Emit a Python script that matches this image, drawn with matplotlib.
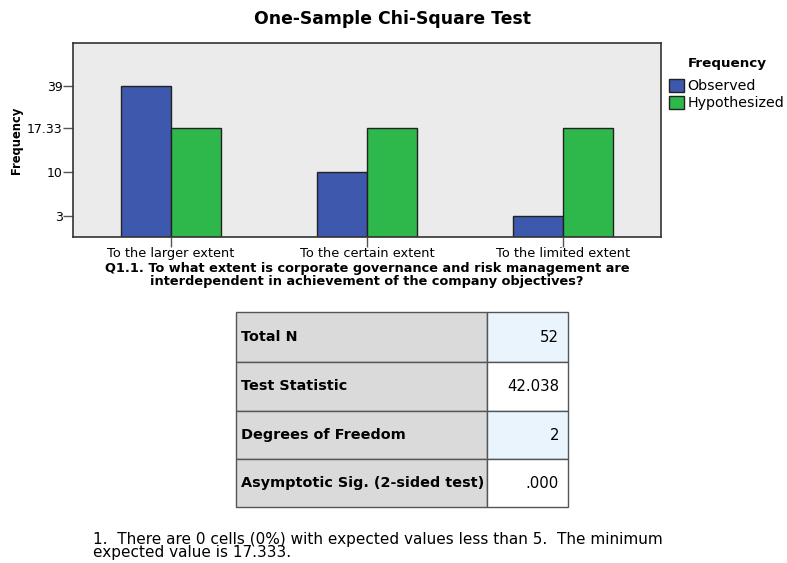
import numpy as np
import matplotlib
matplotlib.use("Agg")
import matplotlib.pyplot as plt
from matplotlib.patches import Rectangle, Patch

plt.rcParams["font.family"] = ["DejaVu Sans"]

categories = ["To the larger extent", "To the certain extent", "To the limited extent"]
observed = [39, 10, 3]
hypothesized = [17.333, 17.333, 17.333]
yticks = [3, 10, 17.333, 39]
ytick_labels = ["3", "10", "17.33", "39"]

row_labels = ["Total N", "Test Statistic", "Degrees of Freedom", "Asymptotic Sig. (2-sided test)"]
row_values = ["52", "42.038", "2", ".000"]
footnote = ("1.  There are 0 cells (0%) with expected values less than 5.  The minimum\n"
            "expected value is 17.333.")

# SPSS spaces the frequency axis unevenly; mimic with a piecewise scale
knots_val = [0, 3, 10, 17.333, 39, 61]
knots_pos = [0, 21, 65, 109, 151, 194]


def fwd(v):
    return np.interp(v, knots_val, knots_pos)


def inv(p):
    return np.interp(p, knots_pos, knots_val)


W, H = 787, 563
fig = plt.figure(figsize=(W / 100, H / 100), dpi=100)

# chart axes (pixel box: x 73..661, y 43..237)
ax = fig.add_axes([73 / W, 1 - 237 / H, 588 / W, 194 / H])
ax.set_facecolor("#ebebeb")
ax.set_yscale("function", functions=(fwd, inv))
x = np.arange(len(categories))
bw = 0.255
ax.bar(x - bw / 2, observed, bw, color="#3e58ad", edgecolor="#222222", linewidth=1)
ax.bar(x + bw / 2, hypothesized, bw, color="#2eb84b", edgecolor="#222222", linewidth=1)
ax.set_xlim(-0.5, 2.5)
ax.set_ylim(0, 61)
ax.set_yticks(yticks)
ax.set_yticklabels(ytick_labels, fontsize=9)
ax.yaxis.set_minor_locator(matplotlib.ticker.NullLocator())
ax.set_xticks(x)
ax.set_xticklabels(categories, fontsize=9.3)
ax.tick_params(axis="both", length=7, width=1, color="#555555", pad=0.5)
for s in ax.spines.values():
    s.set_color("#333333")
    s.set_linewidth(1.2)
ax.set_ylabel("Frequency", fontsize=8.3, fontweight="bold", labelpad=3)
ax.set_xlabel("Q1.1. To what extent is corporate governance and risk management are\n"
              "interdependent in achievement of the company objectives?",
              fontsize=9.3, fontweight="bold", linespacing=1.0, labelpad=1)

fig.text(393 / W, 1 - 19 / H, "One-Sample Chi-Square Test", ha="center", va="center",
         fontsize=12.4, fontweight="bold")

handles = [Patch(facecolor="#3e58ad", edgecolor="#222222", label="Observed"),
           Patch(facecolor="#2eb84b", edgecolor="#222222", label="Hypothesized")]
leg = fig.legend(handles=handles, loc="upper left", bbox_to_anchor=(666 / W, 1 - 76 / H),
                 frameon=False, fontsize=10.3,
                 handlelength=1.05, handleheight=1.0, handletextpad=0.25,
                 labelspacing=0.18, borderaxespad=0, borderpad=0.2)
fig.text(727 / W, 1 - 63 / H, "Frequency", ha="center", va="center",
         fontsize=9.7, fontweight="bold")

# table
tx0, tx1, tcol = 236, 568, 487
row_edges = [312, 362, 411, 459, 507]
tab = fig.add_axes([0, 0, 1, 1])
tab.set_xlim(0, W)
tab.set_ylim(H, 0)
tab.axis("off")
val_colors = ["#eaf4fd", "#ffffff", "#eaf4fd", "#ffffff"]
for i, (lab, val) in enumerate(zip(row_labels, row_values)):
    y0, y1 = row_edges[i], row_edges[i + 1]
    tab.add_patch(Rectangle((tx0, y0), tcol - tx0, y1 - y0, facecolor="#dadada",
                            edgecolor="#555555", linewidth=1))
    tab.add_patch(Rectangle((tcol, y0), tx1 - tcol, y1 - y0, facecolor=val_colors[i],
                            edgecolor="#555555", linewidth=1))
    ym = (y0 + y1) / 2
    tab.text(tx0 + 5, ym, lab, ha="left", va="center", fontsize=10.4, fontweight="bold")
    tab.text(tx1 - 9, ym, val, ha="right", va="center", fontsize=10.7)

tab.text(93, 546, footnote, ha="left", va="center", fontsize=11, linespacing=0.8)

fig.savefig("out.png", dpi=100)
